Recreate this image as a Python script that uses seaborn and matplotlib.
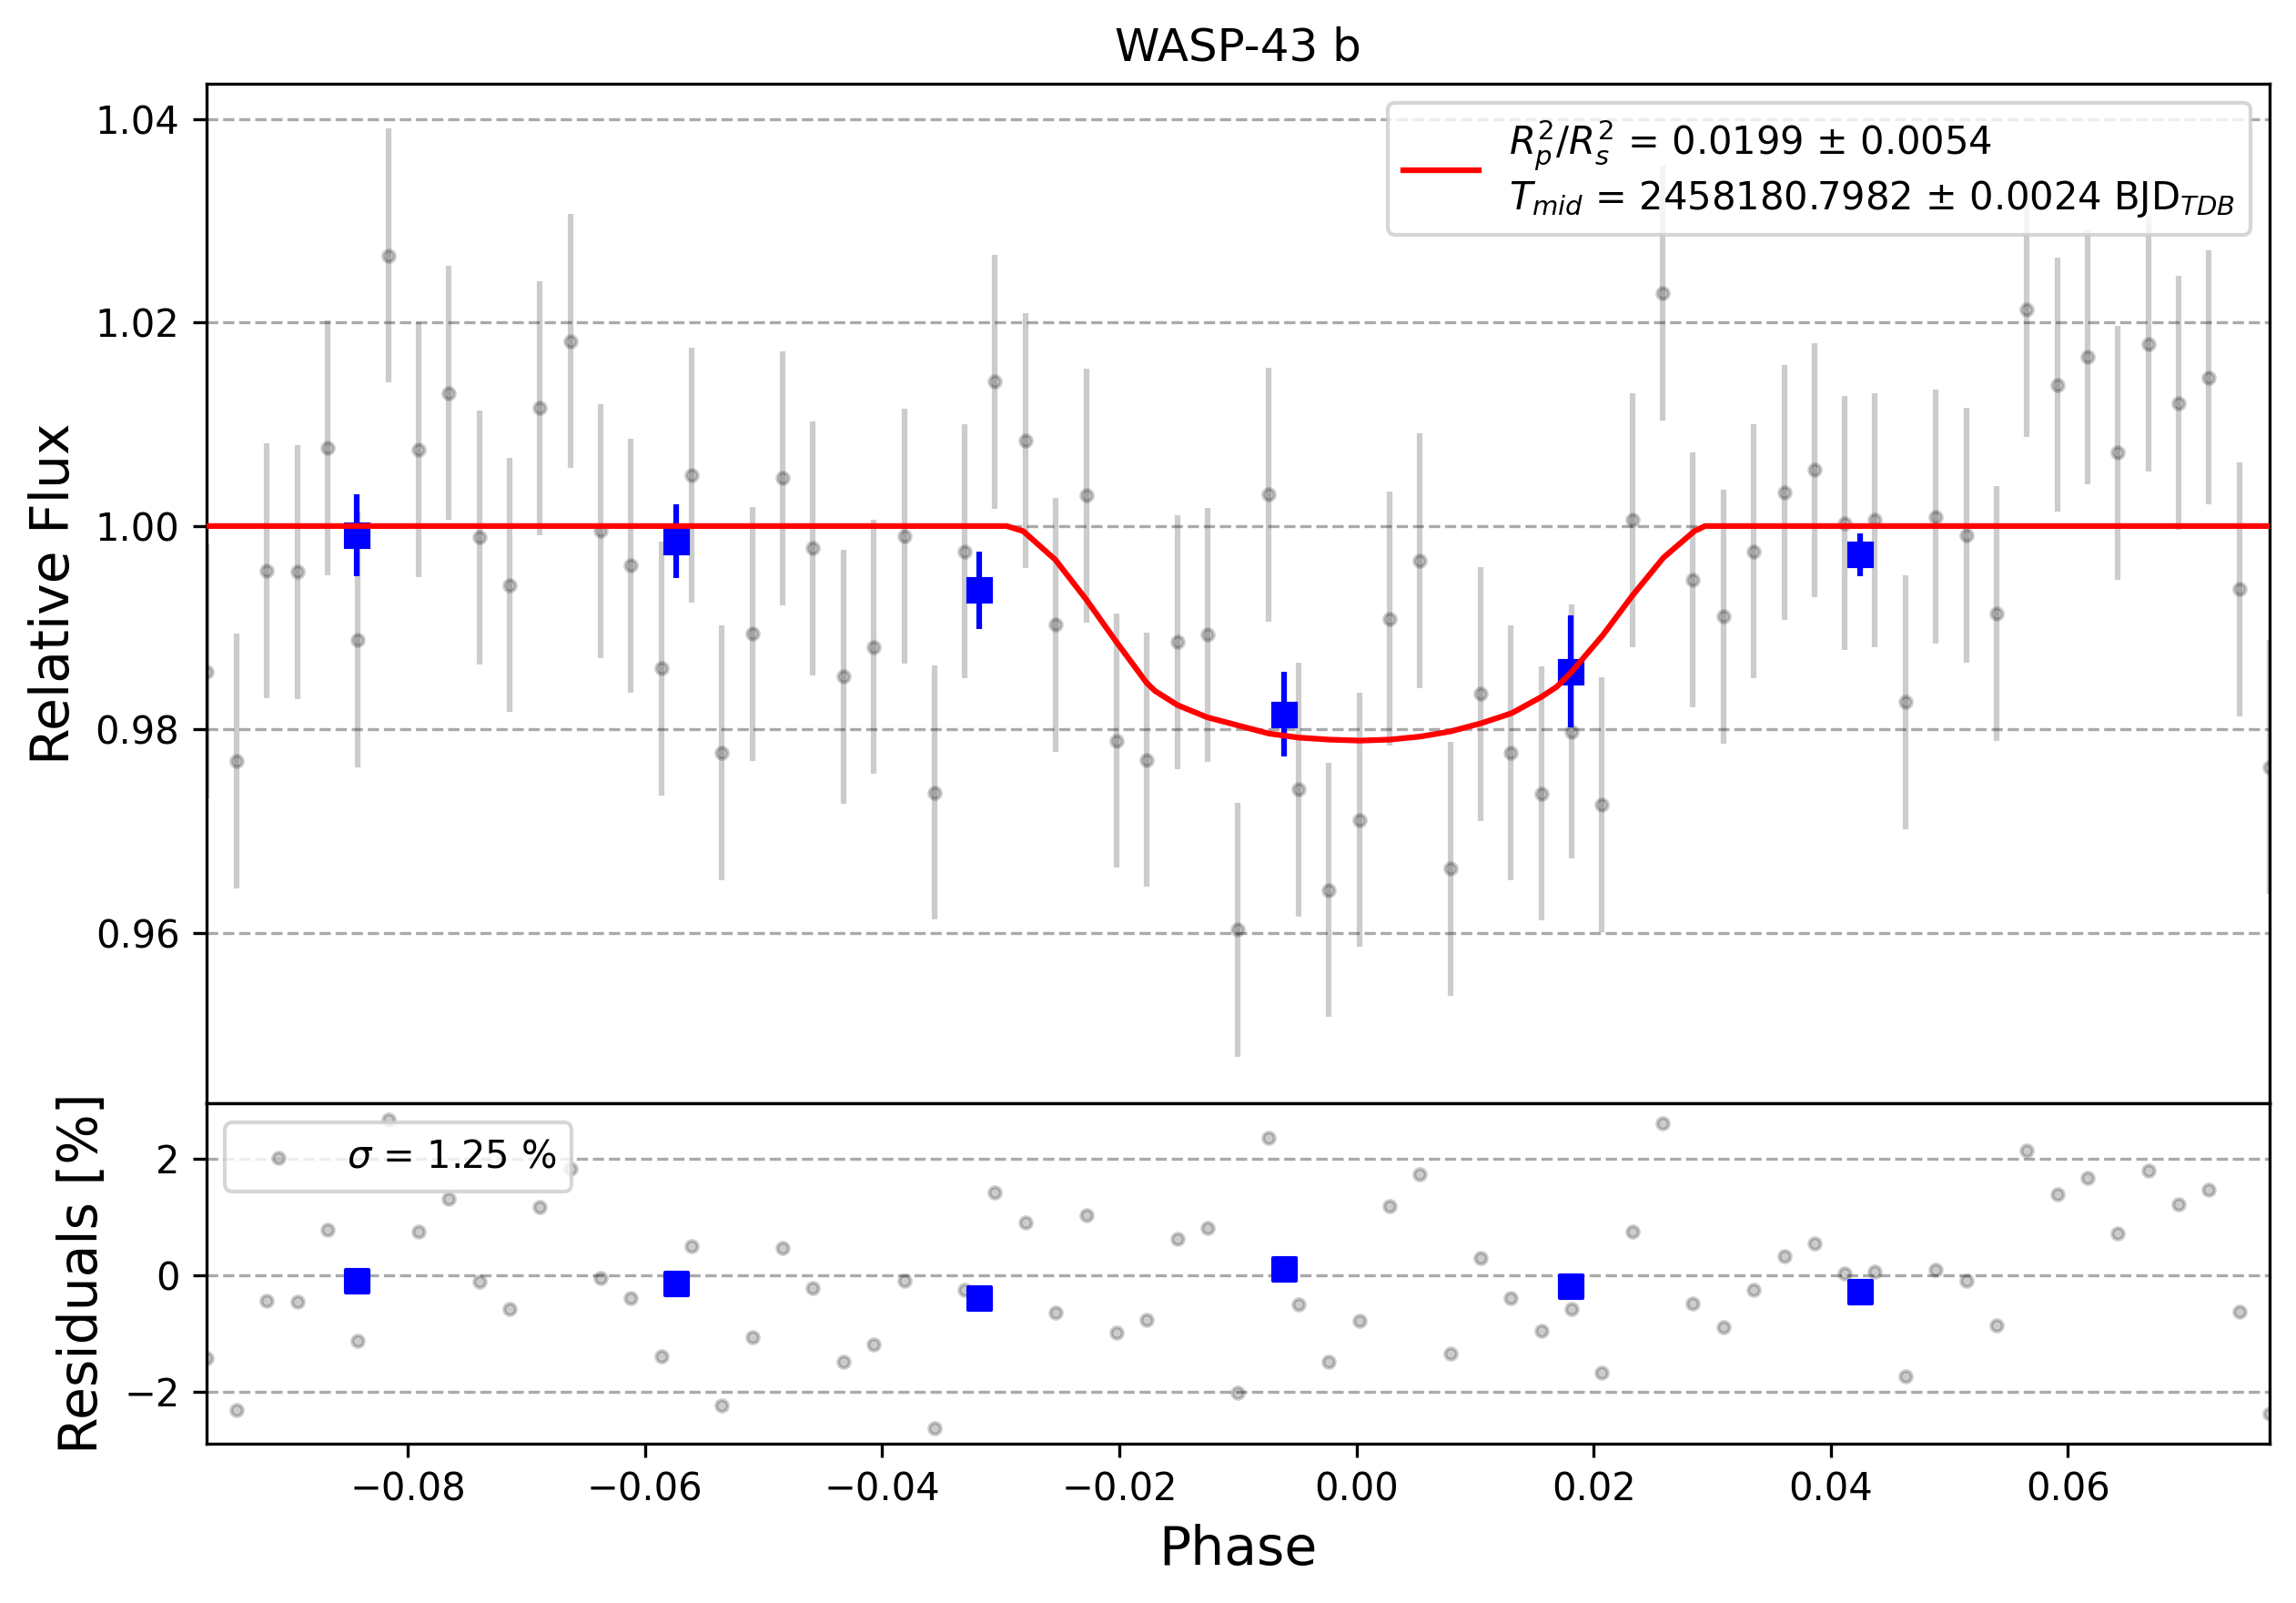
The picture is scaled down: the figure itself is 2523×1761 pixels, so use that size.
import numpy as np
import pandas as pd
import matplotlib
matplotlib.use("Agg")
import matplotlib.pyplot as plt
import seaborn as sns

# ---- data ----
planet = "WASP-43 b"

phase = [
    -0.09700, -0.09444, -0.09188, -0.08932, -0.08676, -0.08421, -0.08165, -0.07909,
    -0.07653, -0.07397, -0.07141, -0.06885, -0.06629, -0.06373, -0.06117, -0.05862,
    -0.05606, -0.05350, -0.05094, -0.04838, -0.04582, -0.04326, -0.04070, -0.03814,
    -0.03558, -0.03303, -0.03047, -0.02791, -0.02535, -0.02279, -0.02023, -0.01767,
    -0.01511, -0.01255, -0.00999, -0.00744, -0.00488, -0.00232, 0.00024, 0.00280,
    0.00536, 0.00792, 0.01048, 0.01304, 0.01559, 0.01815, 0.02071, 0.02327,
    0.02583, 0.02839, 0.03095, 0.03351, 0.03607, 0.03863, 0.04118, 0.04374,
    0.04630, 0.04886, 0.05142, 0.05398, 0.05654, 0.05910, 0.06166, 0.06422,
    0.06677, 0.06933, 0.07189, 0.07445, 0.07701,
]
flux = [
    0.9857, 0.9769, 0.9956, 0.9955, 1.0077, 0.9888, 1.0266, 1.0075,
    1.0131, 0.9989, 0.9942, 1.0116, 1.0182, 0.9995, 0.9961, 0.9860,
    1.0050, 0.9777, 0.9894, 1.0047, 0.9978, 0.9852, 0.9881, 0.9990,
    0.9738, 0.9975, 1.0142, 1.0084, 0.9903, 1.0030, 0.9789, 0.9770,
    0.9886, 0.9893, 0.9603, 1.0031, 0.9741, 0.9642, 0.9711, 0.9909,
    0.9966, 0.9663, 0.9835, 0.9777, 0.9737, 0.9798, 0.9726, 1.0006,
    1.0229, 0.9947, 0.9911, 0.9975, 1.0033, 1.0055, 1.0003, 1.0006,
    0.9827, 1.0009, 0.9991, 0.9914, 1.0213, 1.0139, 1.0166, 1.0072,
    1.0179, 1.0121, 1.0146, 0.9938, 0.9763,
]
# transit model evaluated at each exposure (for residuals)
model_at_points = [
    1.0, 1.0, 1.0, 1.0, 1.0, 1.0, 1.0, 1.0,
    1.0, 1.0, 1.0, 1.0, 1.0, 1.0, 1.0, 1.0,
    1.0, 1.0, 1.0, 1.0, 1.0, 1.0, 1.0, 1.0,
    1.0, 1.0, 1.0, 0.9993, 0.9968, 0.9928, 0.9887, 0.9847,
    0.9824, 0.9812, 0.9804, 0.9796, 0.9792, 0.9790, 0.9789, 0.9790,
    0.9793, 0.9798, 0.9805, 0.9816, 0.9832, 0.9856, 0.9893, 0.9932,
    0.9969, 0.9995, 1.0, 1.0, 1.0, 1.0, 1.0, 1.0,
    1.0, 1.0, 1.0, 1.0, 1.0, 1.0, 1.0, 1.0,
    1.0, 1.0, 1.0, 1.0, 1.0,
]
flux_err = 0.0125

# model curve
model_phase = [
    -0.09700, -0.0295, -0.0281, -0.0254, -0.0228, -0.0203, -0.0177, -0.0170,
    -0.0151, -0.0126, -0.0100, -0.0074, -0.0049, -0.0023, 0.0003, 0.0028,
    0.0054, 0.0079, 0.0105, 0.0131, 0.0156, 0.0169, 0.0181, 0.0208,
    0.0233, 0.0259, 0.0285, 0.0294, 0.07701,
]
model_flux = [
    1.0, 1.0, 0.9995, 0.9967, 0.9928, 0.9887, 0.9846, 0.9838,
    0.9824, 0.9812, 0.9804, 0.9796, 0.9792, 0.9790, 0.9789, 0.9790,
    0.9793, 0.9798, 0.9806, 0.9816, 0.9832, 0.9842, 0.9856, 0.9893,
    0.9932, 0.9969, 0.9995, 1.0, 1.0,
]

# binned points
bin_phase = [-0.0843, -0.0574, -0.0318, -0.0061, 0.0181, 0.0425]
bin_flux = [0.9991, 0.9985, 0.9937, 0.9815, 0.9857, 0.9972]
bin_err = [0.0040, 0.0036, 0.0038, 0.0042, 0.0055, 0.0021]
bin_res = [-0.09, -0.14, -0.39, 0.11, -0.19, -0.28]

fit_label = (r"$R_p^2/R_s^2$ = 0.0199 ± 0.0054" + "\n"
             r"$T_{mid}$ = 2458180.7982 ± 0.0024 BJD$_{TDB}$")
sigma_label = r"$\sigma$ = 1.25 %"

df = pd.DataFrame({"phase": phase, "flux": flux, "model": model_at_points})
df["residual"] = (df["flux"] - df["model"]) * 100

GRID = dict(ls="--", color="#aaaaaa", lw=0.8)

fig = plt.figure(figsize=(8.41, 5.87), dpi=300)
gs = fig.add_gridspec(2, 1, height_ratios=[3, 1], hspace=0,
                      left=0.0898, right=0.9885, top=0.9478, bottom=0.0994)
ax = fig.add_subplot(gs[0])
rax = fig.add_subplot(gs[1])

# top panel: light curve
ax.errorbar(df["phase"], df["flux"], yerr=flux_err, fmt="o", color="k",
            ms=3, alpha=0.2, zorder=2)
ax.errorbar(bin_phase, bin_flux, yerr=bin_err, fmt="s", color="b",
            ms=6, zorder=3)
sns.lineplot(x=model_phase, y=model_flux, ax=ax, color="r", linewidth=1.5,
             sort=False, estimator=None, label=fit_label, zorder=4)
ax.legend(loc="upper right", fontsize=10)
ax.set_xlim(phase[0], phase[-1])
ax.set_ylim(0.9432, 1.0435)
ax.set_yticks([0.96, 0.98, 1.00, 1.02, 1.04])
ax.tick_params(bottom=False, labelbottom=False, labelsize=10)
ax.yaxis.grid(True, **GRID)
ax.set_ylabel("Relative Flux", fontsize=14)
ax.set_xlabel("")
ax.set_title(planet, fontsize=12)

# bottom panel: residuals
sns.scatterplot(data=df, x="phase", y="residual", ax=rax, color="k",
                edgecolor="k", linewidth=1, s=9, alpha=0.2,
                label=sigma_label, zorder=2)
sns.scatterplot(x=bin_phase, y=bin_res, ax=rax, marker="s", color="b",
                edgecolor="b", linewidth=1, s=36, legend=False, zorder=3)
rax.legend(loc="upper left", fontsize=10)
rax.set_xlim(phase[0], phase[-1])
rax.set_ylim(-2.89, 2.94)
rax.set_yticks([-2, 0, 2])
rax.tick_params(labelsize=10)
rax.yaxis.grid(True, **GRID)
rax.set_xlabel("Phase", fontsize=14)
rax.set_ylabel("Residuals [%]", fontsize=14)

fig.savefig("out.png", dpi=300)
plt.close(fig)
